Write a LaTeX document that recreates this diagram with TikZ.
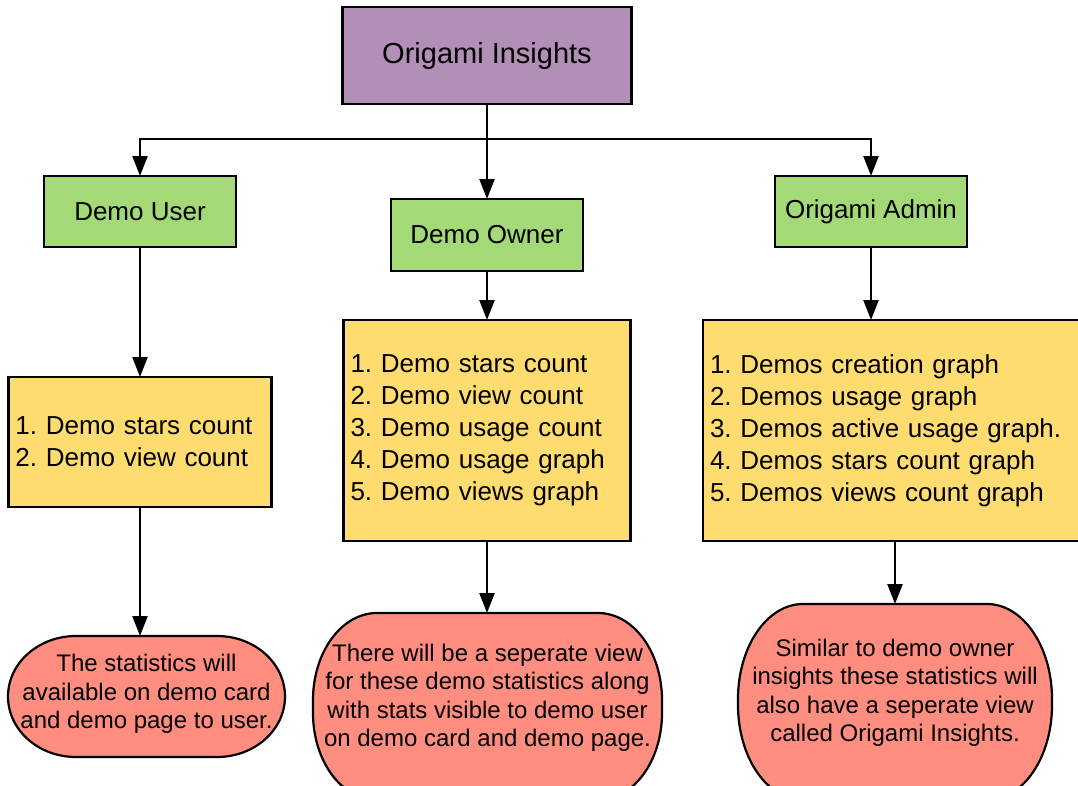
\documentclass[tikz,border=0pt]{standalone}
\usepackage{fontspec}
\setmainfont{Liberation Sans}
\usetikzlibrary{arrows.meta,calc}
\definecolor{cpurple}{HTML}{B28FB6}
\definecolor{cgreen}{HTML}{A3D977}
\definecolor{cyellow}{HTML}{FFDC70}
\definecolor{cred}{HTML}{FF8E80}
\frenchspacing
\newcommand\notebg[3]{%
 \draw[notefill] ($(#1.north west)+(#2,0)$)
  arc[start angle=90,end angle=180,x radius=#2pt,y radius=#3pt]
  -- ($(#1.south west)+(0,-#3)$)
  arc[start angle=180,end angle=270,x radius=#2pt,y radius=#3pt]
  -- ($(#1.south east)+(-#2,0)$)
  arc[start angle=270,end angle=360,x radius=#2pt,y radius=#3pt]
  -- ($(#1.north east)+(0,#3)$)
  arc[start angle=0,end angle=90,x radius=#2pt,y radius=#3pt]
  -- cycle;}
\begin{document}
\begin{tikzpicture}[x=1pt,y=-1pt,
 box/.style={draw=black, line width=2.2pt, inner sep=0pt, outer sep=0pt, font=\fontsize{26}{32}\selectfont},
 titlebox/.style={box, fill=cpurple, minimum width=289pt, minimum height=97pt, font=\fontsize{29}{34}\selectfont},
 rolebox/.style={box, fill=cgreen, minimum width=192pt, minimum height=71pt},
 listbox/.style={box, fill=cyellow, align=left, inner xsep=7pt},
 noteshape/.style={inner sep=0pt, outer sep=0pt},
 notefill/.style={draw=black, line width=2.2pt, fill=cred},
 notetext/.style={inner sep=0pt, align=center, font=\fontsize{24}{28.5}\selectfont},
 arr/.style={line width=2.4pt, -{Triangle[width=15pt,length=20pt]}}
]
\useasboundingbox (0,0) rectangle (1078,785);
\clip (0,0) rectangle (1078,785);

\node[titlebox] (top) at (487,55.5) {Origami Insights};
\node[rolebox] (user) at (140,211.5) {Demo User};
\node[rolebox, minimum height=72pt] (owner) at (487,235) {Demo Owner};
\node[rolebox] (admin) at (871,211.5) {Origami Admin};

\node[listbox, text width=249pt, minimum height=130pt] (l1) at (140,442) {1. Demo stars count\\2. Demo view count};
\node[listbox, text width=273pt, minimum height=221pt] (l2) at (487,430.5) {1. Demo stars count\\2. Demo view count\\3. Demo usage count\\4. Demo usage graph\\5. Demo views graph};
\node[listbox, text width=370pt, minimum height=221pt] (l3) at (895,430.5) {1. Demos creation graph\\2. Demos usage graph\\3. Demos active usage graph.\\4. Demos stars count graph\\5. Demos views count graph};

\node[noteshape, minimum width=277pt, minimum height=121pt] (e1) at (146.5,696.5) {};
\node[noteshape, minimum width=349pt, minimum height=187pt] (e2) at (487.5,706.5) {};
\node[noteshape, minimum width=314pt, minimum height=196pt] (e3) at (895,702) {};
\notebg{e1}{68}{60.5}
\notebg{e2}{64}{87}
\notebg{e3}{65}{95}
\node[notetext] (t1) at (146.5,694) {The statistics will\\available on demo card\\and demo page to user.};
\node[notetext] (t2) at (487.5,698) {There will be a seperate view\\for these demo statistics along\\with stats visible to demo user\\on demo card and demo page.};
\node[notetext] (t3) at (895,693) {Similar to demo owner\\insights these statistics will\\also have a seperate view\\called Origami Insights.};

\coordinate (j) at ($(top.south)+(0,35)$);
\draw[arr] (top.south) -- (owner.north);
\draw[arr] (j) -| (user.north);
\draw[arr] (j) -| (admin.north);
\draw[arr] (user.south) -- (l1.north -| user.south);
\draw[arr] (owner.south) -- (l2.north -| owner.south);
\draw[arr] (admin.south) -- (l3.north -| admin.south);
\draw[arr] (l1.south) -- (e1.north -| l1.south);
\draw[arr] (l2.south) -- (e2.north -| l2.south);
\draw[arr] (l3.south) -- (e3.north -| l3.south);
\end{tikzpicture}
\end{document}
